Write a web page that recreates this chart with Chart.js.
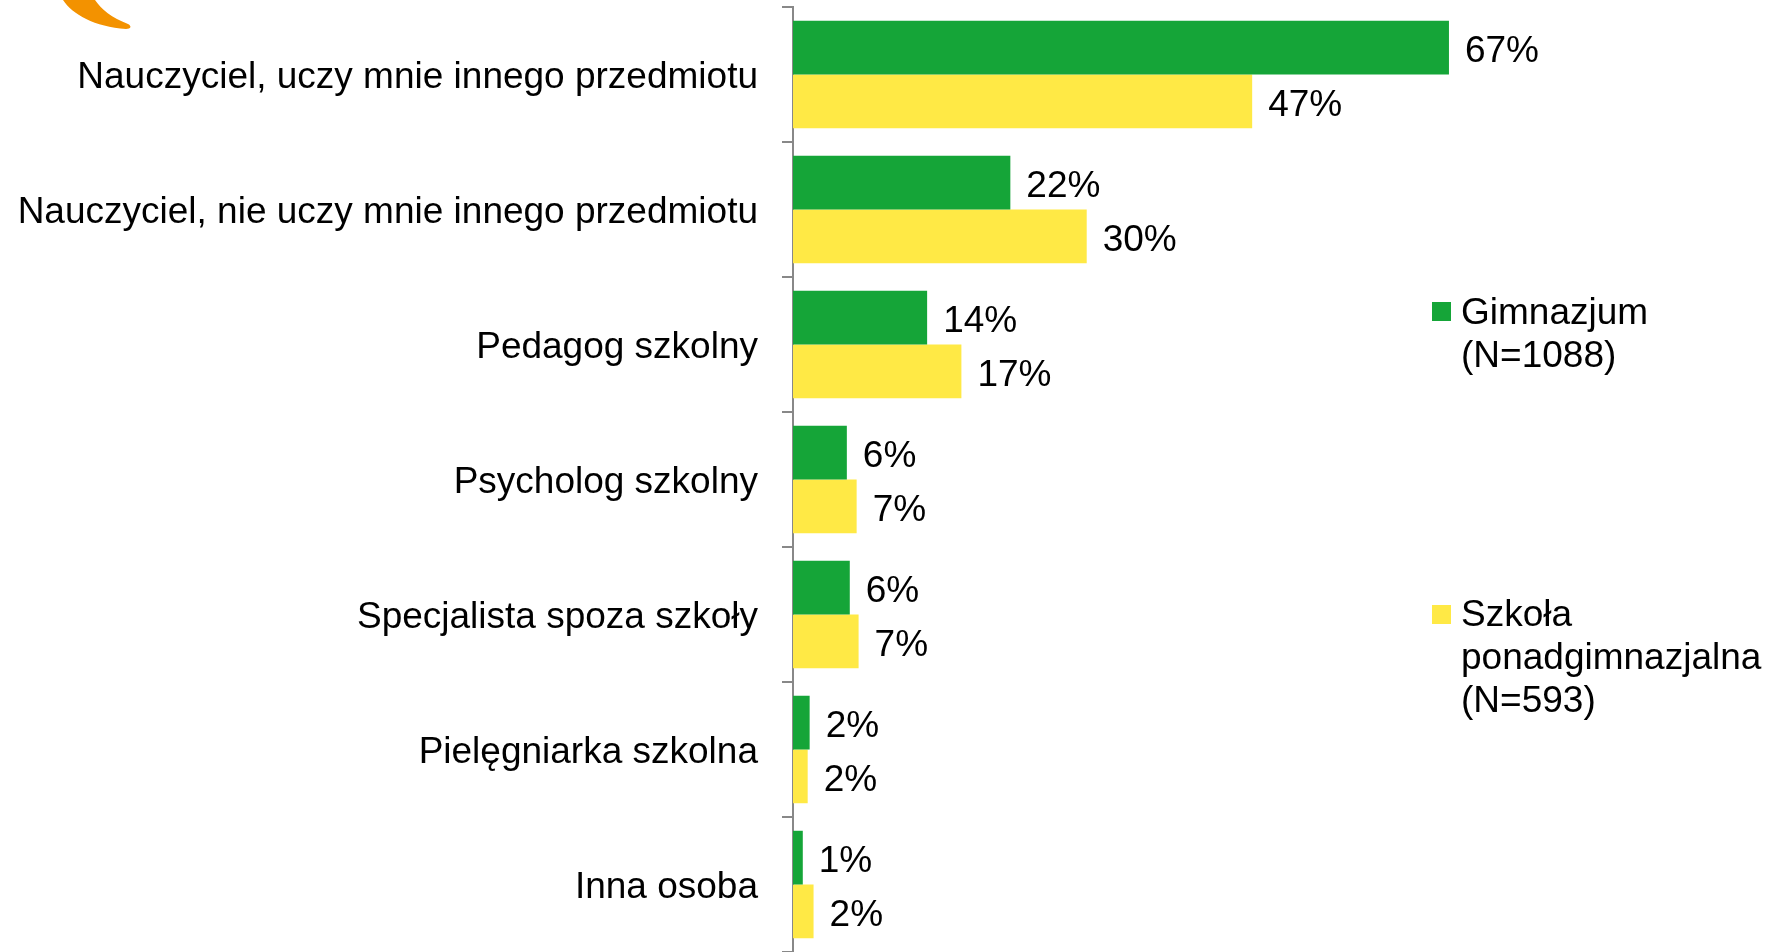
<!DOCTYPE html>
<html>
<head>
<meta charset="utf-8">
<script src="https://cdn.jsdelivr.net/npm/chart.js@4.4.1/dist/chart.umd.min.js"></script>
<style>
  html, body { margin: 0; padding: 0; background: #fff; }
  #wrap { position: relative; width: 1774px; height: 952px; overflow: hidden; }
  #wrap canvas { position: absolute; left: 0; top: 0; }
  .leg { position: absolute; font-family: "Liberation Sans", Arial, sans-serif; font-size: 37px; line-height: 43px; color: #000; white-space: nowrap; }
  .sw { position: absolute; width: 19px; height: 19px; }
  #swoosh { position: absolute; left: 0; top: 0; }
</style>
</head>
<body>
<div id="wrap">
  <canvas id="c" width="1774" height="952"></canvas>
  <svg id="swoosh" width="160" height="40" viewBox="0 0 160 40">
    <path d="M63,0 C72,14 95,27 126,29 C131,29 132,26 128,24 C112,18 101,9 95,0 Z" fill="#F39200"/>
  </svg>
</div>
<script>
const categories = [
  "Nauczyciel, uczy mnie innego przedmiotu",
  "Nauczyciel, nie uczy mnie innego przedmiotu",
  "Pedagog szkolny",
  "Psycholog szkolny",
  "Specjalista spoza szkoły",
  "Pielęgniarka szkolna",
  "Inna osoba"
];
const seriesNames = [["Gimnazjum", "(N=1088)"], ["Szkoła", "ponadgimnazjalna", "(N=593)"]];
const gimnazjum = [67, 22.2, 13.7, 5.5, 5.8, 1.7, 1.0];
const ponadgimnazjalna = [46.9, 30.0, 17.2, 6.5, 6.7, 1.5, 2.1];
const gimnazjumLabels = ["67%", "22%", "14%", "6%", "6%", "2%", "1%"];
const ponadgimnazjalnaLabels = ["47%", "30%", "17%", "7%", "7%", "2%", "2%"];
const colors = ["#15A538", "#FFE945"];

const FONT = "Liberation Sans, Arial, sans-serif";

const valueLabels = {
  id: "valueLabels",
  afterDatasetsDraw(chart) {
    const ctx = chart.ctx;
    ctx.save();
    ctx.font = "37px " + FONT;
    ctx.fillStyle = "#000";
    ctx.textAlign = "left";
    ctx.textBaseline = "middle";
    chart.data.datasets.forEach((ds, di) => {
      const meta = chart.getDatasetMeta(di);
      meta.data.forEach((el, i) => {
        ctx.fillText(ds.valueLabels[i], el.x + 16, el.y + 4);
      });
    });
    ctx.restore();
  }
};

new Chart(document.getElementById("c"), {
  type: "bar",
  data: {
    labels: categories,
    datasets: [
      { label: seriesNames[0].join(" "), data: gimnazjum, valueLabels: gimnazjumLabels,
        backgroundColor: colors[0], categoryPercentage: 0.796, barPercentage: 1.0 },
      { label: seriesNames[1].join(" "), data: ponadgimnazjalna, valueLabels: ponadgimnazjalnaLabels,
        backgroundColor: colors[1], categoryPercentage: 0.796, barPercentage: 1.0 }
    ]
  },
  options: {
    indexAxis: "y",
    responsive: false,
    animation: false,
    layout: { padding: { top: 7, left: 0, right: 0, bottom: 0 } },
    plugins: { legend: { display: false }, tooltip: { enabled: false } },
    scales: {
      x: { display: false, min: 0, max: 100.2 },
      y: {
        afterFit(scale) { scale.width = 793; scale.paddingTop = 0; scale.paddingBottom = 0; },
        grid: { display: true, offset: true, drawOnChartArea: false, drawTicks: true, tickLength: 11, color: "#888", lineWidth: 2 },
        border: { display: true, color: "#888", width: 2 },
        ticks: { color: "#000", font: { family: FONT, size: 37 }, padding: 24, autoSkip: false, labelOffset: 3.5 }
      }
    }
  },
  plugins: [valueLabels]
});

// legend (HTML text)
const wrap = document.getElementById("wrap");
const legendPos = [{ sq: 302, txt: 290 }, { sq: 605, txt: 592 }];
seriesNames.forEach((lines, i) => {
  const sw = document.createElement("div");
  sw.className = "sw";
  sw.style.left = "1432px";
  sw.style.top = legendPos[i].sq + "px";
  sw.style.background = colors[i];
  wrap.appendChild(sw);
  const t = document.createElement("div");
  t.className = "leg";
  t.style.left = "1461px";
  t.style.top = legendPos[i].txt + "px";
  t.innerHTML = lines.join("<br>");
  wrap.appendChild(t);
});
</script>
</body>
</html>
